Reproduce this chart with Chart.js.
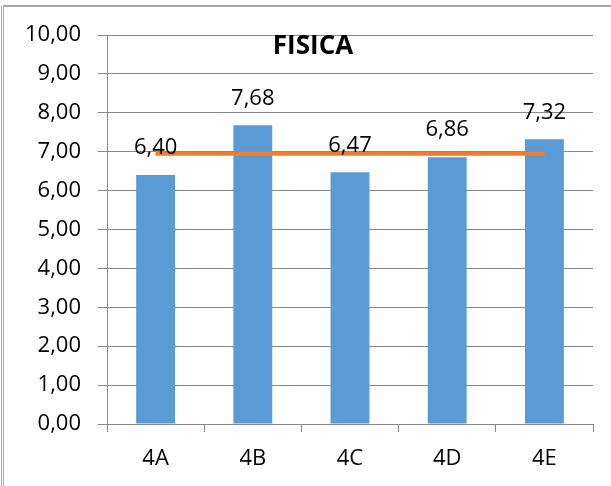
<!DOCTYPE html>
<html>
<head>
<meta charset="utf-8">
<script src="https://cdn.jsdelivr.net/npm/chart.js@4.4.1/dist/chart.umd.min.js"></script>
<style>
  html, body { margin: 0; padding: 0; background: #fff; }
</style>
</head>
<body>
<canvas id="fisicaChart" width="611" height="486"></canvas>
<script>
// Medie di fisica per classe
const classes = ['4A', '4B', '4C', '4D', '4E'];
const scores = [6.40, 7.68, 6.47, 6.86, 7.32];
// Media generale (linea arancione)
const average = [6.95, 6.95, 6.95, 6.95, 6.95];
const yTicks = [0, 1, 2, 3, 4, 5, 6, 7, 8, 9, 10];

const FONT = "'Open Sans', 'Noto Sans', sans-serif";

// Format numbers with a comma (e.g. 6,40)
function formatComma(num) {
    return Number(num).toFixed(2).replace('.', ',');
}

// Background and frame round the chart
const framePlugin = {
    id: 'frame',
    beforeDraw(chart) {
        const ctx = chart.ctx;
        ctx.save();
        ctx.fillStyle = '#fff';
        ctx.fillRect(0, 0, chart.width, chart.height);
        ctx.strokeStyle = '#a6a6a6';
        ctx.lineWidth = 2;
        ctx.beginPath();
        ctx.moveTo(3, 6);
        ctx.lineTo(chart.width, 6);
        ctx.stroke();
        ctx.lineWidth = 1;
        ctx.strokeStyle = '#b0b0b0';
        ctx.beginPath();
        ctx.moveTo(1.5, 6);
        ctx.lineTo(1.5, chart.height);
        ctx.moveTo(3.5, 6);
        ctx.lineTo(3.5, chart.height);
        ctx.stroke();
        ctx.restore();
    }
};

// Value labels above the bars and the title inside the plot
const labelsPlugin = {
    id: 'valueLabels',
    afterDatasetsDraw(chart) {
        const ctx = chart.ctx;
        const meta = chart.getDatasetMeta(1);
        ctx.save();
        ctx.fillStyle = '#000';
        ctx.font = "22px " + FONT;
        ctx.textAlign = 'center';
        ctx.textBaseline = 'middle';
        meta.data.forEach((bar, i) => {
            ctx.fillText(formatComma(scores[i]), bar.x, bar.y - 27);
        });
        ctx.font = "bold 26px " + FONT;
        ctx.fillText('FISICA', chart.chartArea.left + 206, chart.chartArea.top + 12);
        ctx.restore();
    }
};

const ctx = document.getElementById('fisicaChart').getContext('2d');
const fisicaChart = new Chart(ctx, {
    type: 'bar',
    data: {
        labels: classes,
        datasets: [{
            type: 'line',
            label: 'Media',
            data: average,
            borderColor: '#ED7D31',
            borderWidth: 4,
            pointRadius: 0,
            fill: false,
            order: 0
        }, {
            type: 'bar',
            label: 'FISICA',
            data: scores,
            backgroundColor: '#5B9BD5',
            barPercentage: 0.4,
            categoryPercentage: 1.0,
            order: 1
        }]
    },
    options: {
        responsive: false,
        animation: false,
        layout: {
            padding: { left: 10, right: 18, top: 35, bottom: 0 }
        },
        plugins: {
            legend: { display: false },
            tooltip: { enabled: false },
            title: { display: false }
        },
        scales: {
            x: {
                grid: {
                    offset: true,
                    drawOnChartArea: false,
                    tickLength: 8,
                    color: '#888'
                },
                border: { display: true, color: '#888' },
                ticks: {
                    padding: 14,
                    color: '#000',
                    font: { family: FONT, size: 22 }
                },
                afterFit: function(scale) { scale.height = 62; }
            },
            y: {
                min: 0,
                max: 10,
                grid: { color: '#888', tickLength: 9 },
                border: { display: true, color: '#888' },
                ticks: {
                    padding: 17,
                    color: '#000',
                    font: { family: FONT, size: 22 },
                    callback: function(value) {
                        return formatComma(value);
                    }
                },
                afterBuildTicks: function(scale) {
                    scale.ticks = yTicks.map(v => ({ value: v }));
                },
                afterFit: function(scale) { scale.width = 97; }
            }
        }
    },
    plugins: [framePlugin, labelsPlugin]
});
</script>
</body>
</html>
